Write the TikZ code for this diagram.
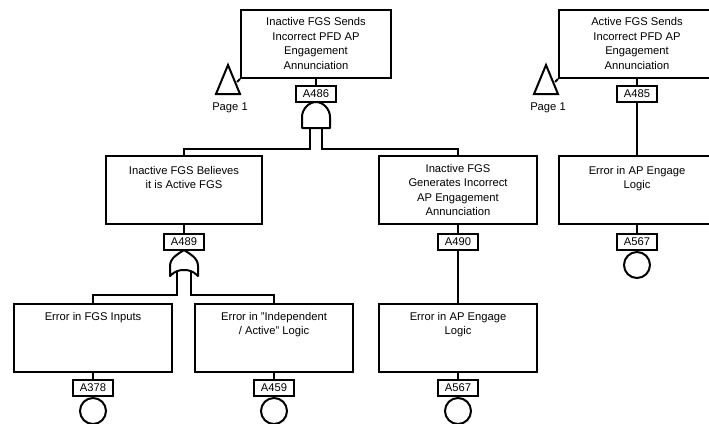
\documentclass[tikz,border=0pt]{standalone}
\usepackage{fontspec}
\setmainfont{Liberation Sans}
\begin{document}
\begin{tikzpicture}[x=1pt,y=-1pt,
  conn/.style={line width=2pt},
  evbox/.style={draw, line width=2pt, inner sep=0pt, minimum width=158pt, minimum height=68pt},
  evtext/.style={anchor=north, inner sep=0pt, align=center, font=\fontsize{11.2}{14.4}\selectfont},
  idbox/.style={draw, line width=2pt, inner sep=0pt, minimum width=40pt, minimum height=16pt, font=\fontsize{11.2}{13}\selectfont},
  basic/.style={draw, circle, line width=2pt, inner sep=0pt, minimum size=26pt},
  gatestyle/.style={draw, line width=2pt, line join=round},
  pagetxt/.style={inner sep=0pt, font=\fontsize{11.2}{13}\selectfont}
]
\useasboundingbox (0,0) rectangle (709,423);

% ---------- left tree ----------
\node[evbox, minimum width=150pt] (t1) at (316,44) {};
\node[evtext] (t1txt) at (316,17.5) {Inactive FGS Sends\\Incorrect PFD AP\\Engagement\\Annunciation};
\node[idbox] (a486) at (316,94) {A486};
\draw[conn] (t1.south) -- (a486.north);

% transfer triangle
\draw[conn, line join=miter] (228,65) -- (240,94) -- (216,94) -- cycle;
\draw[conn] (t1.south west) -- ++(-3,3);
\node[pagetxt] (p1) at (230,108) {Page 1};

% AND gate under A486
\draw[gatestyle] (302,128) -- (302,117) .. controls (302,109) and (309,102) .. (316,102) .. controls (323,102) and (330,109) .. (330,117) -- (330,128) -- cycle;
\coordinate (g1l) at (310,128);
\coordinate (g1r) at (322,128);

% level 2
\node[evbox, minimum width=156pt] (l2a) at (184,190) {};
\node[evtext] (l2atxt) at (184,166) {Inactive FGS Believes\\it is Active FGS};
\node[evbox] (l2b) at (458,190) {};
\node[evtext] (l2btxt) at (458,164) {Inactive FGS\\Generates Incorrect\\AP Engagement\\Annunciation};

\draw[conn] (g1l) -- ++(0,21) -| (l2a.north);
\draw[conn] (g1r) -- ++(0,21) -| (l2b.north);

\node[idbox] (a489) at (184,242) {A489};
\node[idbox] (a490) at (458,242) {A490};
\draw[conn] (l2a.south) -- (a489.north);
\draw[conn] (l2b.south) -- (a490.north);

% OR gate under A489
\draw[gatestyle] (170,276) -- (170,266) .. controls (170,258) and (178,254) .. (184,250) .. controls (190,254) and (198,258) .. (198,266) -- (198,276) .. controls (193,271) and (189,270) .. (184,270) .. controls (179,270) and (175,271) .. (170,276) -- cycle;
\coordinate (g2l) at (177,272);
\coordinate (g2r) at (191,272);

% level 3
\node[evbox] (l3a) at (93,338) {};
\node[evtext] (l3atxt) at (93,312) {Error in FGS Inputs};
\node[evbox] (l3b) at (274,338) {};
\node[evtext] (l3btxt) at (274,312) {Error in "Independent\\/ Active" Logic};
\node[evbox] (l3c) at (458,338) {};
\node[evtext] (l3ctxt) at (458,312) {Error in AP Engage\\Logic};

\draw[conn] (g2l) -- (177,295) -| (l3a.north);
\draw[conn] (g2r) -- (191,295) -| (l3b.north);
\draw[conn] (a490.south) -- (l3c.north);

\node[idbox] (a378) at (93,388) {A378};
\node[idbox] (a459) at (274,388) {A459};
\node[idbox] (a567b) at (458,388) {A567};
\draw[conn] (l3a.south) -- (a378.north);
\draw[conn] (l3b.south) -- (a459.north);
\draw[conn] (l3c.south) -- (a567b.north);

\node[basic] (c378) at (93,411) {};
\node[basic] (c459) at (274,411) {};
\node[basic] (c567b) at (458,411) {};

% ---------- right tree ----------
\node[evbox, minimum width=156pt] (t2) at (637,44) {};
\node[evtext] (t2txt) at (637,17.5) {Active FGS Sends\\Incorrect PFD AP\\Engagement\\Annunciation};
\node[idbox] (a485) at (637,94) {A485};
\draw[conn] (t2.south) -- (a485.north);

\draw[conn, line join=miter] (546,65) -- (558,94) -- (534,94) -- cycle;
\draw[conn] (t2.south west) -- ++(-3,3);
\node[pagetxt] (p2) at (548,108) {Page 1};

\node[evbox, minimum width=156pt] (l2r) at (637,190) {};
\node[evtext] (l2rtxt) at (637,166) {Error in AP Engage\\Logic};
\draw[conn] (a485.south) -- (l2r.north);

\node[idbox] (a567r) at (637,242) {A567};
\draw[conn] (l2r.south) -- (a567r.north);
\node[basic] (c567r) at (637,265) {};
\end{tikzpicture}
\end{document}
